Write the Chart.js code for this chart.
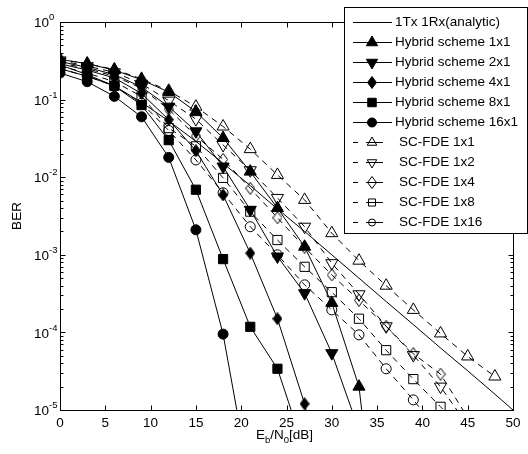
<!DOCTYPE html>
<html>
<head>
<meta charset="utf-8">
<script src="https://cdn.jsdelivr.net/npm/chart.js@4.4.1/dist/chart.umd.min.js"></script>
<style>
  html, body { margin: 0; padding: 0; background: #fff; }
  canvas { display: block; }
</style>
</head>
<body>
<canvas id="ber" width="528" height="454"></canvas>
<script>
// ─── Data ───────────────────────────────────────────────────
const SNR = [0, 3, 6, 9, 12, 15, 18, 21, 24, 27, 30, 33, 36, 39, 42, 45, 48];
const ANALYTIC_SNR = [0, 3, 6, 9, 12, 15, 18, 21, 24, 27, 30, 33, 36, 39, 42, 45, 48, 50];

const analytic = [0.28, 0.21, 0.15, 0.092, 0.053, 0.029, 0.0151, 0.0078, 0.0039, 0.002, 0.001,
                  5.0e-4, 2.5e-4, 1.26e-4, 6.3e-5, 3.2e-5, 1.6e-5, 1.0e-5];
const hybrid1  = [0.33, 0.29, 0.24, 0.18, 0.125, 0.070, 0.032, 0.0118, 0.0040, 0.00127, 2.4e-4, 2.0e-5, 2e-8];
const hybrid2  = [0.31, 0.26, 0.21, 0.145, 0.081, 0.039, 0.0137, 0.0038, 9.5e-4, 3.2e-4, 5.4e-5, 5.5e-6];
const hybrid4  = [0.29, 0.24, 0.19, 0.12, 0.055, 0.022, 0.0059, 0.00105, 1.5e-4, 1.2e-5, 3e-7];
const hybrid8  = [0.25, 0.20, 0.15, 0.085, 0.030, 0.0069, 8.8e-4, 1.18e-4, 3.4e-5, 3e-6];
const hybrid16 = [0.22, 0.17, 0.11, 0.06, 0.018, 0.0021, 9.5e-5, 1.1e-6];
const scfde1   = [0.33, 0.29, 0.245, 0.185, 0.13, 0.081, 0.045, 0.023, 0.0107, 0.0051, 0.0019,
                  8.4e-4, 4.0e-4, 1.95e-4, 9.7e-5, 4.9e-5, 2.7e-5];
const scfde2   = [0.32, 0.27, 0.225, 0.16, 0.097, 0.056, 0.026, 0.0123, 0.0054, 0.0023, 7.8e-4,
                  3.1e-4, 1.2e-4, 5.1e-5, 2.0e-5, 6.3e-6];
const scfde4   = [0.30, 0.25, 0.20, 0.14, 0.075, 0.034, 0.017, 0.0072, 0.0030, 0.00125, 5.5e-4,
                  2.6e-4, 1.2e-4, 5.3e-5, 2.9e-5, 8e-6];
const scfde8   = [0.27, 0.22, 0.17, 0.11, 0.043, 0.025, 0.0098, 0.0036, 0.00155, 7.0e-4, 3.3e-4,
                  1.5e-4, 5.9e-5, 2.5e-5, 1.1e-5, 4.8e-6];
const scfde16  = [0.25, 0.20, 0.15, 0.09, 0.040, 0.0167, 0.0063, 0.0023, 0.0010, 4.1e-4, 1.95e-4,
                  9.3e-5, 3.4e-5, 1.35e-5, 5e-6];

const X_TICKS = [0, 5, 10, 15, 20, 25, 30, 35, 40, 45, 50];
const Y_DECADES = [1, 1e-1, 1e-2, 1e-3, 1e-4, 1e-5];
const Y_EXPONENTS = ['0', '-1', '-2', '-3', '-4', '-5'];

const FONT = "'Liberation Sans', Arial, sans-serif";

// ─── Marker images (narrow MATLAB-style diamond) ────────────
function makeDiamond(filled) {
    const c = document.createElement('canvas');
    c.width = 10; c.height = 13;
    const g = c.getContext('2d');
    g.beginPath();
    g.moveTo(5, 0.5); g.lineTo(9.5, 6.5); g.lineTo(5, 12.5); g.lineTo(0.5, 6.5); g.closePath();
    g.lineWidth = 1; g.strokeStyle = '#000';
    if (filled) { g.fillStyle = '#000'; g.fill(); }
    g.stroke();
    return c;
}
const DIAMOND_FILLED = makeDiamond(true);
const DIAMOND_OPEN = makeDiamond(false);

const MARK = {
    triUp:   { pointStyle: 'triangle', pointRadius: 7, pointRotation: 0 },
    triDown: { pointStyle: 'triangle', pointRadius: 7, pointRotation: 180 },
    dFilled: { pointStyle: DIAMOND_FILLED, pointRadius: 6, pointRotation: 0 },
    dOpen:   { pointStyle: DIAMOND_OPEN, pointRadius: 6, pointRotation: 0 },
    square:  { pointStyle: 'rect', pointRadius: 6.5, pointRotation: 0 },
    circle:  { pointStyle: 'circle', pointRadius: 5, pointRotation: 0 },
    none:    { pointStyle: 'circle', pointRadius: 0, pointRotation: 0 }
};

function series(label, xs, ys, mark, filled, dashed) {
    return {
        label,
        data: ys.map((v, i) => ({ x: xs[i], y: v })),
        borderColor: '#000', borderWidth: 1, tension: 0,
        borderDash: dashed ? [6, 5] : [],
        pointBorderColor: '#000', pointBorderWidth: 1,
        pointBackgroundColor: filled ? '#000' : 'rgba(0,0,0,0)',
        pointHoverRadius: mark.pointRadius,
        _mark: mark, _filled: filled, _dashed: dashed,
        ...mark
    };
}

const datasets = [
    series('1Tx 1Rx(analytic)', ANALYTIC_SNR, analytic, MARK.none, true, false),
    series('Hybrid scheme 1x1', SNR, hybrid1, MARK.triUp, true, false),
    series('Hybrid scheme 2x1', SNR, hybrid2, MARK.triDown, true, false),
    series('Hybrid scheme 4x1', SNR, hybrid4, MARK.dFilled, true, false),
    series('Hybrid scheme 8x1', SNR, hybrid8, MARK.square, true, false),
    series('Hybrid scheme 16x1', SNR, hybrid16, MARK.circle, true, false),
    series('SC-FDE 1x1', SNR, scfde1, MARK.triUp, false, true),
    series('SC-FDE 1x2', SNR, scfde2, MARK.triDown, false, true),
    series('SC-FDE 1x4', SNR, scfde4, MARK.dOpen, false, true),
    series('SC-FDE 1x8', SNR, scfde8, MARK.square, false, true),
    series('SC-FDE 1x16', SNR, scfde16, MARK.circle, false, true)
];

// ─── Axes, ticks, labels (MATLAB look) ──────────────────────
const frame = {
    id: 'frame',
    afterDatasetsDraw(chart) {
        const { ctx, chartArea: a, scales: { x, y } } = chart;
        const L = a.left + 0.5, R = a.right + 0.5, T = a.top + 0.5, B = a.bottom + 0.5;
        ctx.save();
        ctx.strokeStyle = '#000';
        ctx.lineWidth = 1;
        ctx.setLineDash([]);
        ctx.strokeRect(L, T, R - L, B - T);

        ctx.beginPath();
        X_TICKS.forEach(v => {
            const px = Math.round(x.getPixelForValue(v)) + 0.5;
            ctx.moveTo(px, B); ctx.lineTo(px, B - 5);
            ctx.moveTo(px, T); ctx.lineTo(px, T + 5);
        });
        Y_DECADES.forEach((d, k) => {
            const py = Math.round(y.getPixelForValue(d)) + 0.5;
            ctx.moveTo(L, py); ctx.lineTo(L + 5, py);
            ctx.moveTo(R, py); ctx.lineTo(R - 5, py);
            if (k === 0) return;
            for (let m = 2; m <= 9; m++) {
                const pm = Math.round(y.getPixelForValue(m * d)) + 0.5;
                ctx.moveTo(L, pm); ctx.lineTo(L + 3, pm);
                ctx.moveTo(R, pm); ctx.lineTo(R - 3, pm);
            }
        });
        ctx.stroke();

        ctx.fillStyle = '#000';
        ctx.font = '13.5px ' + FONT;
        ctx.textAlign = 'center';
        ctx.textBaseline = 'middle';
        X_TICKS.forEach(v => ctx.fillText(String(v), x.getPixelForValue(v), 423));

        Y_DECADES.forEach((d, k) => {
            const py = y.getPixelForValue(d);
            ctx.font = '13.5px ' + FONT;
            ctx.textAlign = 'right';
            ctx.fillText('10', 49, py + 1.5);
            ctx.font = '9.5px ' + FONT;
            ctx.textAlign = 'left';
            ctx.fillText(Y_EXPONENTS[k], 49, py - 4.5);
        });

        // x title  E_b/N_0[dB]
        const parts = [['E', 13.5, 0], ['b', 9.5, 4], ['/N', 13.5, 0], ['0', 9.5, 4], ['[dB]', 13.5, 0]];
        ctx.textAlign = 'left';
        ctx.textBaseline = 'alphabetic';
        let total = 0;
        parts.forEach(p => { ctx.font = p[1] + 'px ' + FONT; total += ctx.measureText(p[0]).width; });
        let cx = (a.left + a.right) / 2 - total / 2 - 2;
        parts.forEach(p => {
            ctx.font = p[1] + 'px ' + FONT;
            ctx.fillText(p[0], cx, 439 + p[2]);
            cx += ctx.measureText(p[0]).width;
        });

        // y title
        ctx.translate(17, (a.top + a.bottom) / 2);
        ctx.rotate(-Math.PI / 2);
        ctx.font = '13.5px ' + FONT;
        ctx.textAlign = 'center';
        ctx.textBaseline = 'middle';
        ctx.fillText('BER', 0, 0);
        ctx.restore();
    }
};

// ─── Boxed legend, top right ────────────────────────────────
const boxLegend = {
    id: 'boxLegend',
    afterDraw(chart) {
        const ctx = chart.ctx;
        ctx.save();
        ctx.fillStyle = '#fff';
        ctx.strokeStyle = '#000';
        ctx.lineWidth = 1;
        ctx.fillRect(344.5, 7.5, 183, 226);
        ctx.strokeRect(344.5, 7.5, 183, 226);

        chart.data.datasets.forEach((ds, i) => {
            const yy = Math.round(21.7 + 20 * i) + 0.5;
            ctx.strokeStyle = '#000';
            ctx.lineWidth = 1;
            ctx.setLineDash([]);
            ctx.beginPath();
            if (ds._dashed) {
                ctx.moveTo(353, yy); ctx.lineTo(358, yy);
                ctx.moveTo(366, yy); ctx.lineTo(383, yy);
            } else {
                ctx.moveTo(353, yy); ctx.lineTo(392, yy);
            }
            ctx.stroke();

            const mk = ds._mark;
            if (mk.pointRadius > 0) {
                ctx.fillStyle = ds._filled ? '#000' : 'rgba(0,0,0,0)';
                Chart.helpers.drawPoint(ctx, {
                    pointStyle: mk.pointStyle,
                    rotation: mk.pointRotation,
                    radius: ds._filled ? mk.pointRadius - 0.5 : mk.pointRadius - 1.5,
                    borderWidth: 1
                }, 372, yy);
            }

            ctx.fillStyle = '#000';
            ctx.font = '13.5px ' + FONT;
            ctx.textAlign = 'left';
            ctx.textBaseline = 'middle';
            ctx.fillText(ds.label, ds._dashed ? 399 : 395, yy);
        });
        ctx.restore();
    }
};

Chart.defaults.font.family = FONT;

new Chart(document.getElementById('ber'), {
    type: 'line',
    data: { datasets },
    options: {
        responsive: false,
        animation: false,
        events: [],
        layout: { padding: { left: 60, right: 15, top: 22, bottom: 44 } },
        plugins: { legend: { display: false }, tooltip: { enabled: false } },
        scales: {
            x: { type: 'linear', min: 0, max: 50, display: false },
            y: { type: 'logarithmic', min: 1e-5, max: 1, display: false }
        }
    },
    plugins: [frame, boxLegend]
});
</script>
</body>
</html>
